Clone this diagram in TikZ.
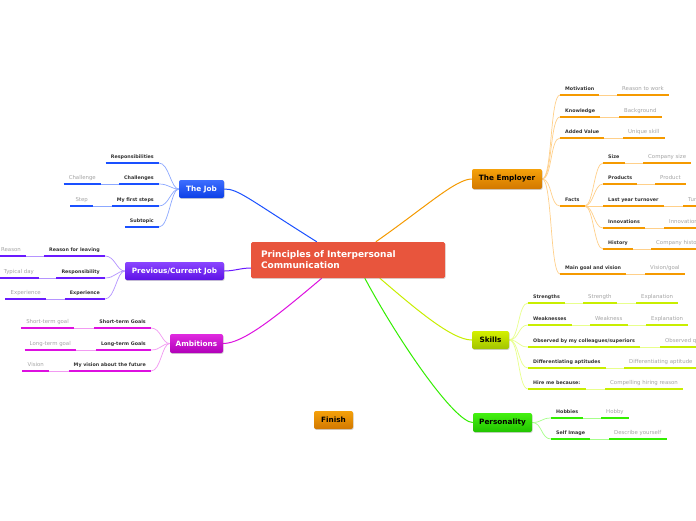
\documentclass[tikz,border=0pt]{standalone}
\usepackage{fontspec}
\setmainfont{DejaVu Sans}
\usetikzlibrary{shadows,backgrounds,calc}
\definecolor{jobC}{HTML}{1A50FF}\definecolor{jobT}{HTML}{3D6EFF}\definecolor{jobB}{HTML}{0C3FE6}\definecolor{jobL}{HTML}{8CA8FF}
\definecolor{prvC}{HTML}{6A1AFF}\definecolor{prvT}{HTML}{8A45FF}\definecolor{prvB}{HTML}{5E12E6}\definecolor{prvL}{HTML}{B594FF}
\definecolor{ambC}{HTML}{DD10E0}\definecolor{ambT}{HTML}{E02AE0}\definecolor{ambB}{HTML}{B000B8}\definecolor{ambL}{HTML}{F29AF2}
\definecolor{empC}{HTML}{F59A00}\definecolor{empT}{HTML}{F5A10A}\definecolor{empB}{HTML}{D27800}\definecolor{empL}{HTML}{FFD08A}
\definecolor{sklC}{HTML}{C8EE00}\definecolor{sklT}{HTML}{D4F000}\definecolor{sklB}{HTML}{A2C400}\definecolor{sklL}{HTML}{E8FF8C}
\definecolor{perC}{HTML}{33EE00}\definecolor{perT}{HTML}{44F010}\definecolor{perB}{HTML}{22C400}\definecolor{perL}{HTML}{A6FF8A}
\definecolor{ctrC}{HTML}{E8553D}
\definecolor{txt}{HTML}{333333}
\definecolor{leaftxt}{HTML}{A5A5A5}
\tikzset{
  topic/.style={font=\fontsize{4.8}{5.8}\selectfont\bfseries, text=txt, inner xsep=5pt, inner ysep=3.5pt, text height=3.6pt, text depth=1pt,
    append after command={(\tikzlastnode.south west) edge[draw=#1, line width=2.2pt] (\tikzlastnode.south east)}},
  leaf/.style={font=\fontsize{5.4}{6.4}\selectfont, text=leaftxt, inner xsep=5pt, inner ysep=3.3pt, text height=4pt, text depth=1.2pt,
    append after command={(\tikzlastnode.south west) edge[draw=#1, line width=2.2pt] (\tikzlastnode.south east)}},
  mainbox/.style n args={3}{rounded corners=2pt, top color=#1, bottom color=#2, text=#3, draw=none,
    font=\fontsize{7.3}{8.5}\selectfont\bfseries, inner sep=0pt,
    drop shadow={shadow xshift=0.6pt, shadow yshift=-0.9pt, opacity=0.35}},
  link/.style={draw=#1, line width=0.7pt},
  branch/.style={draw=#1, line width=1pt},
}
\begin{document}
\begin{tikzpicture}[x=1pt,y=-1pt]
\useasboundingbox (0,0) rectangle (696,520);
% centre
\node[fill=ctrC, rounded corners=1.5pt, minimum width=194pt, minimum height=36pt, text width=174pt, inner xsep=10pt, align=left,
  text=white, font=\fontsize{9}{11}\selectfont\bfseries, drop shadow={shadow xshift=0.6pt, shadow yshift=-0.9pt, opacity=0.3}]
  (ctr) at (348,260) {Principles of Interpersonal\\Communication};
% main nodes
\node[mainbox={jobT}{jobB}{white}, minimum width=45pt, minimum height=18pt] (job) at (201.5,189) {The Job};
\node[mainbox={prvT}{prvB}{white}, minimum width=99pt, minimum height=18pt] (prev) at (174.5,271) {Previous/Current Job};
\node[mainbox={ambT}{ambB}{white}, minimum width=53pt, minimum height=19pt] (amb) at (196.5,343.5) {Ambitions};
\node[mainbox={empT}{empB}{black}, minimum width=70pt, minimum height=20pt] (emp) at (507,179) {The Employer};
\node[mainbox={sklT}{sklB}{black}, minimum width=37pt, minimum height=18pt] (skills) at (490.5,340) {Skills};
\node[mainbox={perT}{perB}{black}, minimum width=59pt, minimum height=19pt] (pers) at (502.5,422.5) {Personality};
\node[mainbox={empT}{empB}{black}, minimum width=39pt, minimum height=18pt] (fin) at (333.5,420) {Finish};
% The Job
\node[topic=jobC, anchor=south east] (t1) at (159,163) {Responsibilities};
\node[topic=jobC, anchor=south east] (t2) at (159,184) {Challenges};
\node[topic=jobC, anchor=south east] (t3) at (159,206) {My first steps};
\node[topic=jobC, anchor=south east] (t4) at (159,227) {Subtopic};
\node[leaf=jobC, anchor=south east] (l2) at (101,184) {Challenge};
\node[leaf=jobC, anchor=south east] (l3) at (93,206) {Step};
% Previous / current job
\node[topic=prvC, anchor=south east] (p1) at (105,256) {Reason for leaving};
\node[topic=prvC, anchor=south east] (p2) at (105,278) {Responsibility};
\node[topic=prvC, anchor=south east] (p3) at (105,299) {Experience};
\node[leaf=prvC, anchor=south east] (q1) at (26,256) {Reason};
\node[leaf=prvC, anchor=south east] (q2) at (39,278) {Typical day};
\node[leaf=prvC, anchor=south east] (q3) at (46,299) {Experience};
% Ambitions
\node[topic=ambC, anchor=south east] (a1) at (151,328) {Short-term Goals};
\node[topic=ambC, anchor=south east] (a2) at (151,350) {Long-term Goals};
\node[topic=ambC, anchor=south east] (a3) at (151,371) {My vision about the future};
\node[leaf=ambC, anchor=south east] (b1) at (74,328) {Short-term goal};
\node[leaf=ambC, anchor=south east] (b2) at (76,350) {Long-term goal};
\node[leaf=ambC, anchor=south east] (b3) at (49,371) {Vision};
% Employer
\node[topic=empC, anchor=south west] (e1) at (560,95) {Motivation};
\node[topic=empC, anchor=south west] (e2) at (560,117) {Knowledge};
\node[topic=empC, anchor=south west] (e3) at (560,138) {Added Value};
\node[topic=empC, anchor=south west] (e4) at (560,206) {Facts};
\node[topic=empC, anchor=south west] (e5) at (560,274) {Main goal and vision};
\node[leaf=empC, anchor=south west] (m1) at (617,95) {Reason to work};
\node[leaf=empC, anchor=south west] (m2) at (619,117) {Background};
\node[leaf=empC, anchor=south west] (m3) at (623,138) {Unique skill};
\node[leaf=empC, anchor=south west] (m5) at (645,274) {Vision/goal};
\node[topic=empC, anchor=south west] (f1) at (603,163) {Size};
\node[topic=empC, anchor=south west] (f2) at (603,184) {Products};
\node[topic=empC, anchor=south west] (f3) at (603,206) {Last year turnover};
\node[topic=empC, anchor=south west] (f4) at (603,228) {Innovations};
\node[topic=empC, anchor=south west] (f5) at (603,249) {History};
\node[leaf=empC, anchor=south west] (g1) at (643,163) {Company size};
\node[leaf=empC, anchor=south west] (g2) at (655,184) {Product};
\node[leaf=empC, anchor=south west] (g3) at (683,206) {Turnover};
\node[leaf=empC, anchor=south west] (g4) at (664,228) {Innovation};
\node[leaf=empC, anchor=south west] (g5) at (651,249) {Company history};
% Skills
\node[topic=sklC, anchor=south west] (s1) at (528,303) {Strengths};
\node[topic=sklC, anchor=south west] (s2) at (528,325) {Weaknesses};
\node[topic=sklC, anchor=south west] (s3) at (528,347) {Observed by my colleagues/superiors};
\node[topic=sklC, anchor=south west] (s4) at (528,368) {Differentiating aptitudes};
\node[topic=sklC, anchor=south west] (s5) at (528,389) {Hire me because:};
\node[leaf=sklC, anchor=south west] (k1) at (583,303) {Strength};
\node[leaf=sklC, anchor=south west] (k1b) at (636,303) {Explanation};
\node[leaf=sklC, anchor=south west] (k2) at (590,325) {Weakness};
\node[leaf=sklC, anchor=south west] (k2b) at (646,325) {Explanation};
\node[leaf=sklC, anchor=south west] (k3) at (660,347) {Observed quality};
\node[leaf=sklC, anchor=south west] (k4) at (624,368) {Differentiating aptitude};
\node[leaf=sklC, anchor=south west] (k5) at (605,389) {Compelling hiring reason};
% Personality
\node[topic=perC, anchor=south west] (h1) at (551,418) {Hobbies};
\node[topic=perC, anchor=south west] (h2) at (551,439) {Self Image};
\node[leaf=perC, anchor=south west] (r1) at (601,418) {Hobby};
\node[leaf=perC, anchor=south west] (r2) at (609,439) {Describe yourself};
% connectors
\begin{scope}[on background layer]
  \fill[white] (0,0) rectangle (696,520);
  \draw[branch=jobC] (job.east) .. controls +(14,0) and +(-70,-44) .. ($(ctr.north west)+(66,0)$);
  \draw[branch=empC] ($(ctr.north west)+(125,0)$) .. controls +(50,-35) and +(-16,0) .. (emp.west);
  \draw[branch=prvC] (prev.east) .. controls +(10,0) and +(-10,0) .. ($(ctr.west)+(0,8)$);
  \draw[branch=ambC] (amb.east) .. controls +(20,0) and +(-45,38) .. ($(ctr.south west)+(71,0)$);
  \draw[branch=sklC] ($(ctr.south west)+(129,0)$) .. controls +(35,30) and +(-20,0) .. (skills.west);
  \draw[branch=perC] ($(ctr.south west)+(114,0)$) .. controls +(35,65) and +(-18,0) .. (pers.west);
  \foreach \t in {t1,t2,t3,t4} \draw[link=jobL] (\t.south east) .. controls +(10,0) and +(-8,0) .. (job.west);
  \draw[link=jobL] (t2.south west) -- (l2.south east);
  \draw[link=jobL] (t3.south west) -- (l3.south east);
  \foreach \t in {p1,p2,p3} \draw[link=prvL] (\t.south east) .. controls +(10,0) and +(-8,0) .. (prev.west);
  \draw[link=prvL] (p1.south west) -- (q1.south east);
  \draw[link=prvL] (p2.south west) -- (q2.south east);
  \draw[link=prvL] (p3.south west) -- (q3.south east);
  \foreach \t in {a1,a2,a3} \draw[link=ambL] (\t.south east) .. controls +(10,0) and +(-8,0) .. (amb.west);
  \draw[link=ambL] (a1.south west) -- (b1.south east);
  \draw[link=ambL] (a2.south west) -- (b2.south east);
  \draw[link=ambL] (a3.south west) -- (b3.south east);
  \foreach \t in {e1,e2,e3,e4,e5} \draw[link=empL] (emp.east) .. controls +(10,0) and +(-10,0) .. (\t.south west);
  \draw[link=empL] (e1.south east) -- (m1.south west);
  \draw[link=empL] (e2.south east) -- (m2.south west);
  \draw[link=empL] (e3.south east) -- (m3.south west);
  \draw[link=empL] (e5.south east) -- (m5.south west);
  \foreach \t in {f1,f2,f3,f4,f5} \draw[link=empL] (e4.south east) .. controls +(9,0) and +(-9,0) .. (\t.south west);
  \draw[link=empL] (f1.south east) -- (g1.south west);
  \draw[link=empL] (f2.south east) -- (g2.south west);
  \draw[link=empL] (f3.south east) -- (g3.south west);
  \draw[link=empL] (f4.south east) -- (g4.south west);
  \draw[link=empL] (f5.south east) -- (g5.south west);
  \foreach \t in {s1,s2,s3,s4,s5} \draw[link=sklL] (skills.east) .. controls +(10,0) and +(-10,0) .. (\t.south west);
  \draw[link=sklL] (s1.south east) -- (k1.south west);
  \draw[link=sklL] (k1.south east) -- (k1b.south west);
  \draw[link=sklL] (s2.south east) -- (k2.south west);
  \draw[link=sklL] (k2.south east) -- (k2b.south west);
  \draw[link=sklL] (s3.south east) -- (k3.south west);
  \draw[link=sklL] (s4.south east) -- (k4.south west);
  \draw[link=sklL] (s5.south east) -- (k5.south west);
  \foreach \t in {h1,h2} \draw[link=perL] (pers.east) .. controls +(10,0) and +(-10,0) .. (\t.south west);
  \draw[link=perL] (h1.south east) -- (r1.south west);
  \draw[link=perL] (h2.south east) -- (r2.south west);
\end{scope}
\end{tikzpicture}
\end{document}
